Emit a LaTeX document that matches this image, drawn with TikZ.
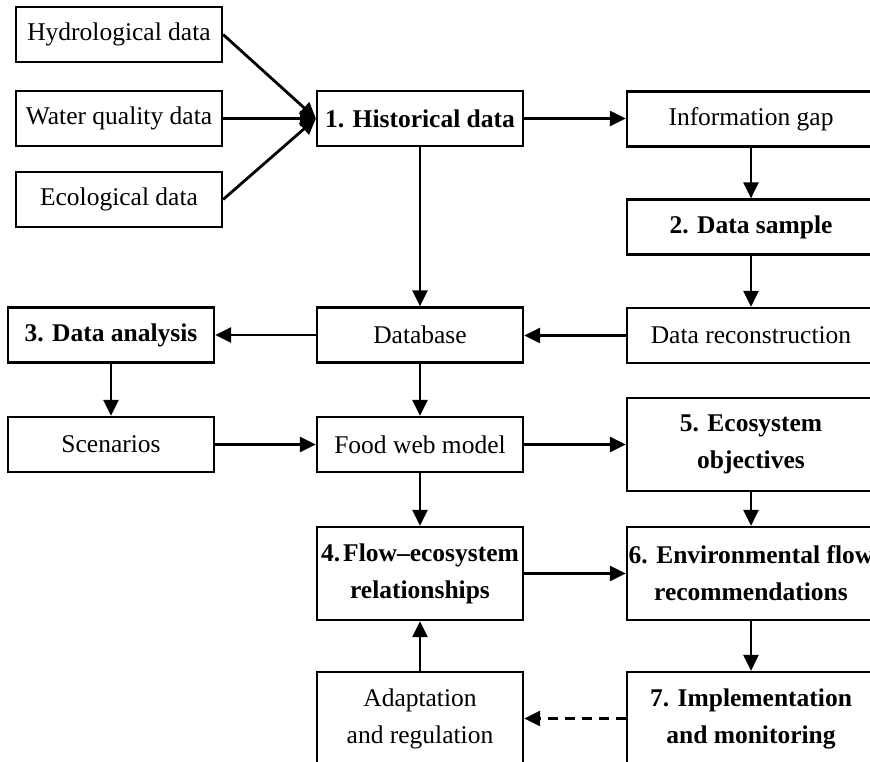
\documentclass[tikz,border=0pt]{standalone}
\usepackage{fontspec}
\setmainfont{Liberation Serif}
\usetikzlibrary{arrows.meta}
\begin{document}
\begin{tikzpicture}[x=1pt,y=-1pt,
  box/.style={draw, line width=2.2pt, inner sep=0pt, align=center,
    font=\fontsize{25.5}{37}\selectfont},
  sbox/.style={box, minimum width=206pt, minimum height=55pt},
  rbox/.style={box, minimum width=248pt, minimum height=55pt},
  tbox/.style={box, minimum width=206pt, minimum height=93pt},
  trbox/.style={box, minimum width=248pt, minimum height=93pt},
  arr/.style={line width=2.8pt, -{Triangle[length=16pt,width=15pt]}},
  darr/.style={arr, dash pattern=on 10pt off 7pt}]
\useasboundingbox (0,0) rectangle (870,762);
\clip (0,0) rectangle (870,762);
% input boxes
\node[sbox] (hydro) at (119,34.5) {Hydrological data};
\node[sbox] (water) at (119,118.5) {Water quality data};
\node[sbox] (ecol) at (119,199.5) {Ecological data};
% middle column
\node[sbox] (hist) at (420,118.5) {\textbf{1. Historical data}};
\node[sbox] (db) at (420,335) {Database};
\node[sbox] (food) at (420,444.5) {Food web model};
\node[tbox] (flow) at (420,573.5) {\textbf{4.\hspace{3pt}Flow–ecosystem}\\\textbf{relationships}};
\node[tbox] (adapt) at (420,718.5) {Adaptation\\and regulation};
% left column
\node[sbox] (anal) at (111,335) {\textbf{3. Data analysis}};
\node[sbox] (scen) at (111,444.5) {Scenarios};
% right column
\node[rbox] (gap) at (751,119) {Information gap};
\node[rbox] (sample) at (751,227) {\textbf{2. Data sample}};
\node[rbox] (recon) at (751,335.5) {Data reconstruction};
\node[trbox] (objs) at (751,444.5) {\textbf{5. Ecosystem}\\\textbf{objectives}};
\node[trbox] (env) at (751,573.5) {\textbf{6. Environmental flow}\\\textbf{recommendations}};
\node[trbox] (impl) at (751,718.5) {\textbf{7. Implementation}\\\textbf{and monitoring}};
% connectors
\draw[arr] (hydro.east) -- (hist.west);
\draw[arr] (water.east) -- (hist.west);
\draw[arr] (ecol.east) -- (hist.west);
\draw[arr] (hist.east) -- (hist.east -| gap.west);
\draw[arr] (gap.south) -- (sample.north);
\draw[arr] (sample.south) -- (recon.north);
\draw[arr] (recon.west) -- (recon.west -| db.east);
\draw[arr] (hist.south) -- (db.north);
\draw[arr] (db.west) -- (anal.east);
\draw[arr] (anal.south) -- (scen.north);
\draw[arr] (scen.east) -- (food.west);
\draw[arr] (db.south) -- (food.north);
\draw[arr] (food.east) -- (objs.west);
\draw[arr] (food.south) -- (flow.north);
\draw[arr] (objs.south) -- (env.north);
\draw[arr] (flow.east) -- (env.west);
\draw[arr] (env.south) -- (impl.north);
\draw[darr] (impl.west) -- (adapt.east);
\draw[arr] (adapt.north) -- (flow.south);
\end{tikzpicture}
\end{document}
